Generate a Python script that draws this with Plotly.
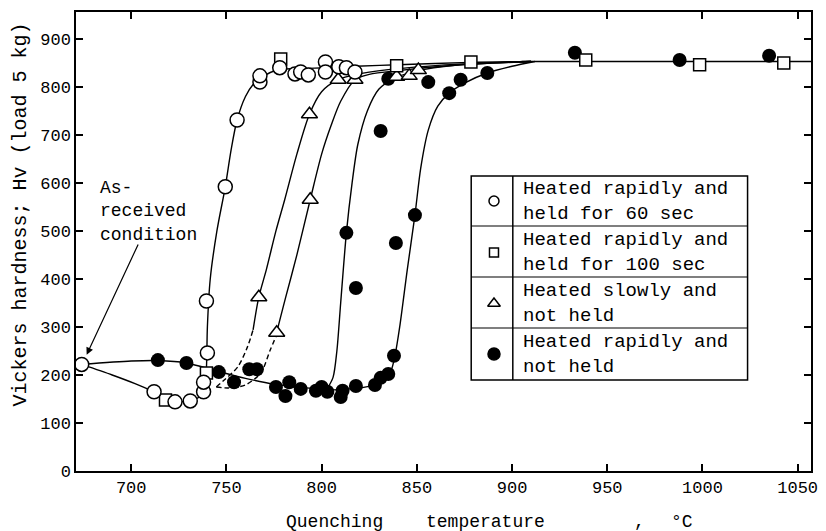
import plotly.graph_objects as go

# ---------------- data ----------------
# Heated rapidly and held for 60 sec (open circles)
c60_T = [674, 712, 723, 731, 738, 738, 740, 739.5, 749.4, 755.6, 767.6, 767.6, 778, 786, 789, 793, 802, 802, 809, 813, 817.5]
c60_H = [222, 165, 144, 146, 165, 185, 246, 354, 592, 731, 810, 823, 840, 827, 831, 825, 852, 831, 842, 840, 831]

# Heated rapidly and held for 100 sec (open squares)
s100_T = [718, 739.5, 778.5, 839.4, 878.4, 938.7, 998.5, 1042.7]
s100_H = [148, 204, 858, 844, 852, 856, 846, 850]

# Heated slowly and not held (open triangles)
tri_T = [767, 776.4, 794, 793.6, 808.7, 817.5, 839.4, 846, 850.8]
tri_H = [362, 288, 565, 743, 815, 815, 821, 823, 835]

# Heated rapidly and not held (filled circles)
fil_T = [714, 729, 746, 754, 762, 766, 776, 781, 783, 789, 797, 800, 803, 810, 811, 818, 828, 831, 835, 838,
         813, 818, 839, 849, 831, 835, 856, 867, 873, 887, 933, 988, 1035]
fil_H = [231, 225, 206, 185, 212, 212, 175, 156, 185, 171, 167, 175, 165, 154, 167, 177, 179, 194, 202, 240,
         496, 381, 475, 533, 708, 817, 810, 787, 815, 829, 871, 856, 865]

# hand-drawn curves
curve_open_T = [674, 690, 702, 712, 719, 725, 731, 736, 738.5, 739.5, 740, 741.5, 745, 749.4, 752.5, 755.6, 760, 764, 768, 773, 779, 790, 802, 818, 840, 878, 910]
curve_open_H = [222, 200, 182, 165, 152, 145, 146, 155, 175, 215, 300, 400, 500, 592, 670, 731, 780, 805, 818, 830, 837, 838, 840, 843, 846, 851, 853]

curve_fil1_T = [674, 700, 714, 729, 746, 760, 775, 790, 805, 818, 828, 833, 836.5, 838.5, 841, 845, 849, 852, 856, 861, 867, 875, 887, 900, 912]
curve_fil1_H = [222, 229, 230, 225, 207, 193, 181, 174, 169, 172, 180, 192, 210, 240, 300, 420, 533, 630, 710, 760, 787, 808, 829, 843, 853]

curve_fil2_T = [803, 806, 808, 810, 813, 816, 819, 824, 830, 838, 850, 870, 910]
curve_fil2_H = [172, 195, 250, 350, 496, 600, 680, 750, 795, 818, 833, 845, 853]

curve_triL_T = [764, 767, 771, 776, 780.6, 787, 793.6, 800, 808.7, 818, 835, 870, 910]
curve_triL_H = [294, 362, 420, 500, 565, 660, 743, 790, 815, 826, 836, 847, 853]

curve_triR_T = [776, 776.4, 781, 787, 794, 800, 805, 810, 817.5, 825, 840, 870, 910]
curve_triR_H = [280, 288, 360, 450, 565, 660, 720, 770, 815, 826, 834, 845, 853]

dashL_T = [744.7, 749, 756, 761, 764]
dashL_H = [175, 190, 217, 258, 294]
dashR_T = [744.7, 751, 759.8, 768, 773, 776]
dashR_H = [175, 173, 179, 204, 252, 280]

plateau_T = [905, 1057]
plateau_H = [853, 853]

x_ticks = [700, 750, 800, 850, 900, 950, 1000, 1050]
y_ticks = [0, 100, 200, 300, 400, 500, 600, 700, 800, 900]

legend_rows = [
    "Heated rapidly and<br>held for 60 sec",
    "Heated rapidly and<br>held for 100 sec",
    "Heated slowly and<br>not held",
    "Heated rapidly and<br>not held",
]
note_text = "As-<br>received<br>condition"

FONT = "Liberation Mono"
BLK = "black"

fig = go.Figure()

def add_line(T, H, dash="solid", smooth=0.8):
    fig.add_trace(go.Scatter(x=T, y=H, mode="lines",
                             line=dict(color=BLK, width=1.4, dash=dash, shape="spline", smoothing=smooth),
                             hoverinfo="skip", showlegend=False))

add_line(curve_open_T, curve_open_H)
add_line(curve_fil1_T, curve_fil1_H)
add_line(curve_fil2_T, curve_fil2_H)
add_line(curve_triL_T, curve_triL_H)
add_line(curve_triR_T, curve_triR_H)
add_line(dashL_T, dashL_H, dash="5px,3px")
add_line(dashR_T, dashR_H, dash="5px,3px")
fig.add_trace(go.Scatter(x=plateau_T, y=plateau_H, mode="lines",
                         line=dict(color=BLK, width=1.4), hoverinfo="skip", showlegend=False))

fig.add_trace(go.Scatter(x=fil_T, y=fil_H, mode="markers",
                         marker=dict(symbol="circle", size=14, color=BLK, line=dict(color=BLK, width=0)),
                         showlegend=False))
fig.add_trace(go.Scatter(x=tri_T, y=tri_H, mode="markers",
                         marker=dict(symbol="triangle-up", size=14, color="white", line=dict(color=BLK, width=1.5)),
                         showlegend=False))
fig.add_trace(go.Scatter(x=s100_T, y=s100_H, mode="markers",
                         marker=dict(symbol="square", size=12, color="white", line=dict(color=BLK, width=1.5)),
                         showlegend=False))
fig.add_trace(go.Scatter(x=c60_T, y=c60_H, mode="markers",
                         marker=dict(symbol="circle", size=14, color="white", line=dict(color=BLK, width=1.5)),
                         showlegend=False))

# ---- legend table (drawn) ----
bx0, bx1, bdiv = 0.5377, 0.9137, 0.5943
by_top, by_bot = 0.6427, 0.1983
row_lines = [0.5338, 0.4227, 0.3115]
row_centers = [0.5882, 0.4760, 0.3649, 0.2549]
shapes = [dict(type="rect", xref="paper", yref="paper", x0=bx0, x1=bx1, y0=by_bot, y1=by_top,
               line=dict(color=BLK, width=1.5), fillcolor="white", layer="below"),
          dict(type="line", xref="paper", yref="paper", x0=bdiv, x1=bdiv, y0=by_bot, y1=by_top,
               line=dict(color=BLK, width=1.5))]
for yl in row_lines:
    shapes.append(dict(type="line", xref="paper", yref="paper", x0=bx0, x1=bx1, y0=yl, y1=yl,
                       line=dict(color=BLK, width=1.2)))

leg_x = 0.5687
sym = [("circle", 10, "white"), ("square", 9, "white"), ("triangle-up", 11, "white"), ("circle", 12, BLK)]
for (s, sz, col), yc in zip(sym, row_centers):
    fig.add_trace(go.Scatter(x=[leg_x], y=[yc], xaxis="x2", yaxis="y2", mode="markers",
                             marker=dict(symbol=s, size=sz, color=col, line=dict(color=BLK, width=1.5)),
                             showlegend=False, hoverinfo="skip"))

annotations = []
for txt, yc in zip(legend_rows, row_centers):
    annotations.append(dict(text=txt, xref="paper", yref="paper", x=0.605, y=yc,
                            xanchor="left", yanchor="middle", align="left", showarrow=False,
                            font=dict(family=FONT, size=19, color=BLK)))

# As-received annotation
annotations.append(dict(text=note_text, xref="paper", yref="paper", x=0.0296, y=0.5643,
                        xanchor="left", yanchor="middle", align="left", showarrow=False,
                        font=dict(family=FONT, size=18, color=BLK)))
annotations.append(dict(text="", x=676.6, y=242, xref="x", yref="y", ax=704, ay=475,
                        axref="x", ayref="y", showarrow=True, arrowhead=2, arrowsize=1.2,
                        arrowwidth=1.2, arrowcolor=BLK))

# axis titles
annotations.append(dict(text="Vickers hardness; Hv (load 5 kg)", xref="paper", yref="paper",
                        x=-0.0755, y=0.5577, textangle=-90, showarrow=False,
                        xanchor="center", yanchor="middle", font=dict(family=FONT, size=20, color=BLK)))
for txt, xx in (("Quenching", 0.3518), ("temperature", 0.5566), (",", 0.7668), ("°C", 0.8248)):
    annotations.append(dict(text=txt, xref="paper", yref="paper", x=xx, y=-0.1111,
                            xanchor="center", yanchor="middle", showarrow=False,
                            font=dict(family=FONT, size=18, color=BLK)))

axis_common = dict(showline=True, linecolor=BLK, linewidth=1.5, mirror="allticks",
                   ticks="inside", ticklen=7, tickwidth=1.5, tickcolor=BLK,
                   showgrid=False, zeroline=False,
                   tickfont=dict(family=FONT, size=17, color=BLK))

fig.update_layout(
    width=826, height=531,
    margin=dict(l=76, r=8, t=12, b=60),
    paper_bgcolor="white", plot_bgcolor="white",
    xaxis=dict(range=[671, 1057], tickvals=x_ticks, **axis_common),
    yaxis=dict(range=[0, 956], tickvals=y_ticks, **axis_common),
    xaxis2=dict(overlaying="x", range=[0, 1], visible=False),
    yaxis2=dict(overlaying="y", range=[0, 1], visible=False),
    shapes=shapes, annotations=annotations, showlegend=False,
)

fig.write_html("out.html")
